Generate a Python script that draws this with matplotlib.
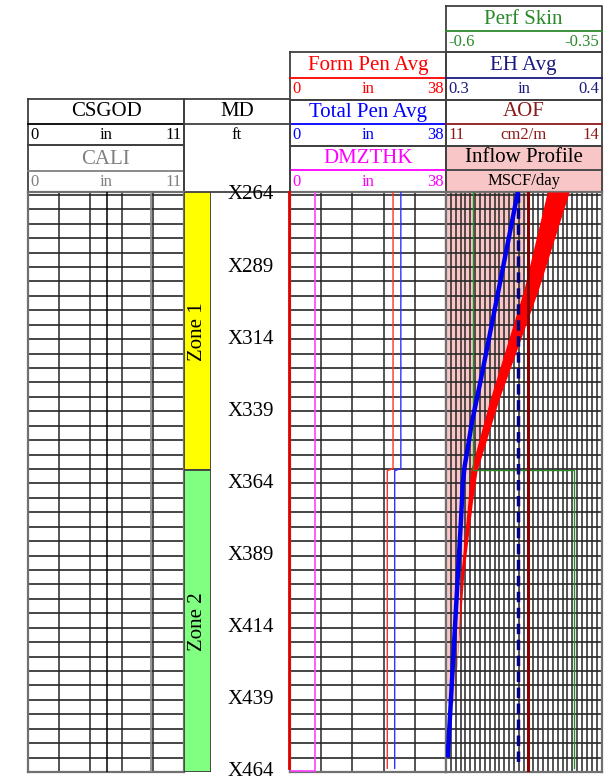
import numpy as np
import matplotlib.pyplot as plt

plt.rcParams['font.family'] = ['Liberation Serif', 'DejaVu Serif']

W, H = 608, 780

# depth frame (ft) and labels
depth_top, depth_base = 263.0, 464.0
depth_labels = [264, 289, 314, 339, 364, 389, 414, 439, 464]
grid_depths = np.arange(264, 465, 5)

zone_names = ['Zone 1', 'Zone 2']
zone_tops = [263.0, 359.5]
zone_bases = [359.5, 464.0]
zone_colors = ['#FFFF00', '#80FF80']

# track 1 (in)
csgod_depth = [263.0, 464.0]
csgod = [5.55, 5.55]
cali_depth = [263.0, 464.0]
cali = [8.68, 8.68]

# track 2 (in)
pen_depth = [263.0, 358.8, 359.6, 462.7]
form_pen = [25.1, 25.1, 23.7, 23.7]
total_pen = [27.0, 27.0, 25.5, 25.5]
edge_trace = [-0.25, -0.25, -0.25, -0.25]
dmz_depth = [263.0, 463.8, 463.8]
dmzthk = [6.1, 6.1, 0.0]

# track 3
perf_depth = [263.0, 359.4, 359.4, 462.7]
perf_skin = [-0.556, -0.556, -0.394, -0.394]
eh_depth = [263.0, 460.6]
eh_avg = [0.346, 0.346]
aof_depth = [263.0, 463.4]
aof = [12.59, 12.59]

# inflow profile (relative units, 0-100 across the track)
inflow_depth = [263, 300, 328, 343, 352, 358, 364, 377, 395, 459]
inflow = [46.2, 32.7, 22.4, 16.6, 13.9, 12.0, 10.8, 9.6, 7.7, 1.1]
band_depth = [263, 297, 335, 359.5, 370, 395, 418, 440]
band_lo = [65.1, 50.0, 28.2, 15.8, 14.1, 9.6, 8.0, 5.0]
band_hi = [79.2, 59.3, 34.0, 20.0, 17.1, 11.5, 8.3, 5.0]
pink_cap = 51.5

GRID = '#262626'
BORDER = '#707070'
TITLE_FS = 15
SCALE_FS = 12


def px_box(x0, y0, x1, y1):
    return [x0 / W, 1 - y1 / H, (x1 - x0) / W, (y1 - y0) / H]


def track(x0, x1, xlim, ncols):
    ax = fig.add_axes(px_box(x0, 192, x1, 772))
    ax.set_xlim(*xlim)
    ax.set_ylim(depth_base, depth_top)
    ax.set_xticks([])
    ax.set_yticks([])
    for x in np.linspace(xlim[0], xlim[1], ncols + 1)[1:-1]:
        ax.axvline(x, color=GRID, lw=1.1, zorder=2)
    for d in grid_depths:
        ax.axhline(d, color=GRID, lw=1.2, zorder=2)
    for s in ax.spines.values():
        s.set_color(BORDER)
        s.set_linewidth(1.6)
    return ax


def overlay(ax, xlim):
    tw = ax.twiny()
    tw.set_xlim(*xlim)
    tw.set_ylim(depth_base, depth_top)
    tw.axis('off')
    return tw


fig = plt.figure(figsize=(W / 100, H / 100), dpi=100)

# header layer in pixel units
hd = fig.add_axes([0, 0, 1, 1])
hd.set_xlim(0, W)
hd.set_ylim(H, 0)
hd.axis('off')

headers = [
    (28, 184, 99.3, 112, 124, 135, 145, 'CSGOD', 'black', '0', 'in', '11'),
    (28, 184, 145, 159, 170.7, 181.5, 192, 'CALI', '#808080', '0', 'in', '11'),
    (290, 446, 52.3, 65.5, 78.3, 89, 100, 'Form Pen Avg', '#FF0000', '0', 'in', '38'),
    (290, 446, 100, 112, 124, 135, 146, 'Total Pen Avg', '#0000FF', '0', 'in', '38'),
    (290, 446, 146, 158.5, 170, 181.5, 192, 'DMZTHK', '#FF00FF', '0', 'in', '38'),
    (446, 601.5, 6, 19, 31, 42, 52.3, 'Perf Skin', '#2A8A2A', '-0.6', '', '-0.35'),
    (446, 601.5, 52.3, 65.5, 78.3, 89, 100, 'EH Avg', '#1A1A80', '0.3', 'in', '0.4'),
    (446, 601.5, 100, 112, 124, 135, 146, 'AOF', '#8B1A1A', '11', 'cm2/m', '14'),
]
for x0, x1, top, ty, ly, sy, bot, title, col, lo, unit, hi in headers:
    hd.plot([x0, x1, x1, x0, x0], [top, top, bot, bot, top], color='#404040', lw=1.3)
    hd.plot([x0, x1], [ly, ly], color=col, lw=1.3)
    hd.text((x0 + x1) / 2, ty, title, color=col, fontsize=TITLE_FS, ha='center', va='center')
    hd.text(x0 + 2, sy, lo, color=col, fontsize=SCALE_FS, ha='left', va='center')
    hd.text((x0 + x1) / 2, sy, unit, color=col, fontsize=SCALE_FS, ha='center', va='center')
    hd.text(x1 - 2, sy, hi, color=col, fontsize=SCALE_FS, ha='right', va='center')

# inflow profile header
hd.fill([446, 601.5, 601.5, 446], [146, 146, 192, 192], color='#F8C6C6')
hd.plot([446, 601.5, 601.5, 446, 446], [146, 146, 192, 192, 146], color='#404040', lw=1.3)
hd.plot([446, 601.5], [170, 170], color='#404040', lw=1.3)
hd.text(523.7, 158, 'Inflow Profile', fontsize=TITLE_FS, ha='center', va='center')
hd.text(523.7, 181, 'MSCF/day', fontsize=SCALE_FS, ha='center', va='center')

# MD header
hd.plot([184, 290, 290, 184, 184], [99.3, 99.3, 192, 192, 99.3], color='#404040', lw=1.3)
hd.plot([184, 290], [124, 124], color='#404040', lw=1.3)
hd.text(237, 112, 'MD', fontsize=TITLE_FS, ha='center', va='center')
hd.text(237, 135, 'ft', fontsize=SCALE_FS, ha='center', va='center')

# track 1
ax1 = track(28, 184, (0, 11), 5)
ax1.plot(csgod, csgod_depth, color='black', lw=1.1, zorder=3)
ax1.plot(cali, cali_depth, color='#8C8C8C', lw=1.3, zorder=3)

# zone track
axz = fig.add_axes(px_box(184, 192, 211, 772))
axz.set_xlim(0, 1)
axz.set_ylim(depth_base, depth_top)
axz.axis('off')
for name, t, b, c in zip(zone_names, zone_tops, zone_bases, zone_colors):
    axz.bar(0.5, b - t, bottom=t, width=1.0, color=c, edgecolor='#404040', lw=1.3)
    axz.text(0.5, (t + b) / 2, name, rotation=90, fontsize=TITLE_FS,
             ha='center', va='center')

# depth labels
axd = fig.add_axes(px_box(211, 192, 290, 772))
axd.set_xlim(0, 1)
axd.set_ylim(depth_base, depth_top)
axd.axis('off')
for d in depth_labels:
    axd.text(0.5, d, f'X{d}', fontsize=15, ha='center', va='center', clip_on=False)

# track 2
ax2 = track(290, 446, (0, 38), 5)
ax2.plot(edge_trace, pen_depth, color='#E00000', lw=2.0, zorder=3, clip_on=False)
ax2.plot(dmzthk, dmz_depth, color='#FF40FF', lw=1.2, zorder=3)
ax2.plot(form_pen, pen_depth, color='#FF3030', lw=1.0, zorder=3)
ax2.plot(total_pen, pen_depth, color='#3030FF', lw=1.0, zorder=3)

# track 3
ax3 = track(446, 601.5, (0, 100), 32)
ax3.fill_betweenx(band_depth, 0, np.minimum(band_lo, pink_cap), color='#F8C6C6', lw=0, zorder=1)
ax3.fill_betweenx(band_depth, band_lo, band_hi, color='#FF0000', lw=0, zorder=3)

ax_perf = overlay(ax3, (-0.6, -0.35))
ax_perf.plot(perf_skin, perf_depth, color='#2A8A2A', lw=1.0)
ax_eh = overlay(ax3, (0.3, 0.4))
ax_eh.plot(eh_avg, eh_depth, color='#000080', lw=2.5, linestyle=(0, (3, 1.6)))
ax_aof = overlay(ax3, (11, 14))
ax_aof.plot(aof, aof_depth, color='#8B0000', lw=2.2)
ax_in = overlay(ax3, (0, 100))
ax_in.plot(inflow, inflow_depth, color='#0000EE', lw=3.2, solid_capstyle='butt')

fig.savefig('out.png', dpi=100)
